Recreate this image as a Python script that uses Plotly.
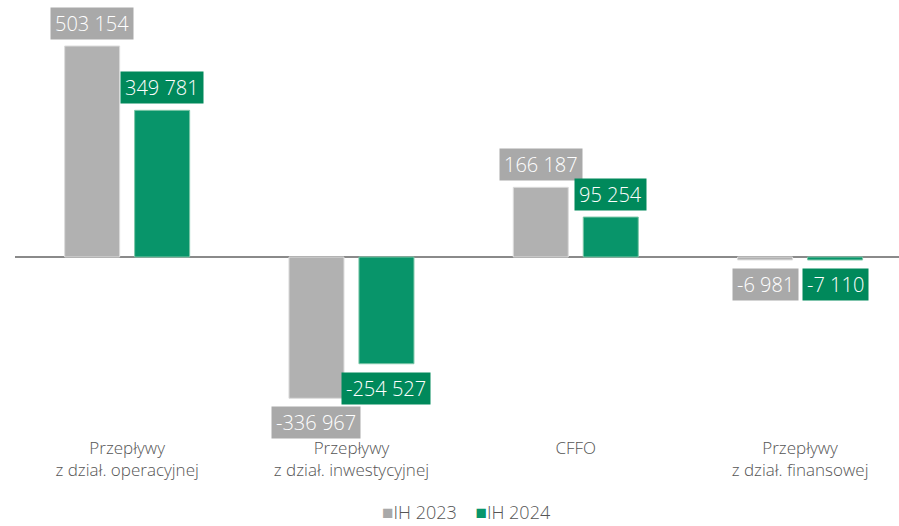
import plotly.graph_objects as go

categories = ['Przepływy<br>z dział. operacyjnej', 'Przepływy<br>z dział. inwestycyjnej',
              'CFFO', 'Przepływy<br>z dział. finansowej']
series_names = ['IH 2023', 'IH 2024']
ih_2023 = [503154, -336967, 166187, -6981]
ih_2024 = [349781, -254527, 95254, -7110]

GRAY = '#b1b1b1'
GRAY_LBL = '#a9a9a9'
GREEN = '#08956a'
GREEN_LBL = '#00895b'
FONT = 'Open Sans'


def fmt(v):
    s = f'{abs(v):,}'.replace(',', ' ')
    return ('-' if v < 0 else '') + s


x_idx = list(range(len(categories)))

fig = go.Figure()
fig.add_trace(go.Bar(x=x_idx, y=ih_2023, name=series_names[0], marker=dict(color=GRAY, line=dict(color='#dcdcdc', width=1))))
fig.add_trace(go.Bar(x=x_idx, y=ih_2024, name=series_names[1], marker=dict(color=GREEN, line=dict(color='#7cc7a8', width=1))))

# value labels in coloured boxes
offset = 0.156
for vals, dx, bg in [(ih_2023, -offset, GRAY_LBL), (ih_2024, offset, GREEN_LBL)]:
    for i, v in enumerate(vals):
        fig.add_annotation(x=i + dx, y=v, xref='x', yref='y', text=fmt(v), showarrow=False,
                           font=dict(family=FONT, size=20, color='white', weight=300),
                           bgcolor=bg, borderpad=4, height=23,
                           yanchor='bottom' if v > 0 else 'top',
                           yshift=6 if v > 0 else -8)

# legend drawn as text (plotly's own legend box would not fit under the labels)
legend_txt = '&nbsp;&nbsp;&nbsp;&nbsp;'.join(
    f"<span style='color:{c};font-size:19px'>■</span>{n}" for c, n in zip([GRAY_LBL, GREEN], series_names))
fig.add_annotation(x=0.511, y=-0.176, xref='paper', yref='paper', text=legend_txt, showarrow=False,
                   xanchor='center', yanchor='middle',
                   font=dict(family=FONT, size=18, color='#555555', weight=300))

fig.update_layout(
    width=899, height=526,
    margin=dict(l=15, r=0, t=5, b=90, autoexpand=False),
    plot_bgcolor='white', paper_bgcolor='white',
    barmode='group', bargap=0.376, bargroupgap=0.214,
    showlegend=False,
    font=dict(family=FONT, color='#555555', weight=300),
    xaxis=dict(range=[-0.5, 3.441], tickmode='array', tickvals=x_idx, ticktext=categories,
               showgrid=False, showline=False, ticks='', automargin=False,
               tickfont=dict(size=17, color='#555555', weight=300)),
    yaxis=dict(range=[-426900, 601000], showgrid=False, showticklabels=False, automargin=False,
               zeroline=True, zerolinecolor='#8a8a8a', zerolinewidth=2),
)

# page body has a default margin; drop it so the figure sits at the window corner
fig.write_html('out.html', config={'displayModeBar': False},
               post_script="document.body.style.margin='0';")
